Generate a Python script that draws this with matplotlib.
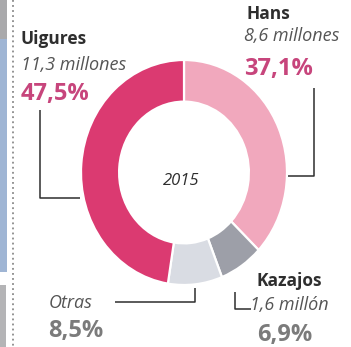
import matplotlib

matplotlib.use("Agg")
import matplotlib.pyplot as plt
from matplotlib.patches import Rectangle

# data
groups = ["Hans", "Kazajos", "Otras", "Uigures"]
shares = [37.1, 6.9, 8.5, 47.5]
people = ["8,6 millones", "1,6 millón", "", "11,3 millones"]
share_labels = ["37,1%", "6,9%", "8,5%", "47,5%"]
year = "2015"

colors = ["#f1a8bd", "#9d9fa8", "#d9dce3", "#db3a71"]
PINK_TXT = "#c7457c"
GRAY_TXT = "#7b7b7b"
DARK = "#2e2e2e"
ITAL = "#555555"
FONT = "Open Sans"

W, H = 351, 347
fig = plt.figure(figsize=(W / 100, H / 100), dpi=100)

# overlay axes in pixel coordinates
ax = fig.add_axes([0, 0, 1, 1])
ax.set_xlim(0, W)
ax.set_ylim(H, 0)
ax.axis("off")

# donut (slightly taller than wide, as in the source)
cx, cy, rx, ry = 184, 172.5, 103, 112.5
pax = fig.add_axes([(cx - rx) / W, (H - cy - ry) / H, 2 * rx / W, 2 * ry / H])
pax.pie(shares, colors=colors, startangle=90, counterclock=False,
        wedgeprops=dict(width=0.37, edgecolor="white", linewidth=1.6))
pax.set_aspect("auto")
pax.set_xlim(-1, 1)
pax.set_ylim(-1, 1)
pax.axis("off")

# left page decorations
ax.add_patch(Rectangle((0, 0), 7, 39, color="#a9a9ab", lw=0))
ax.add_patch(Rectangle((0, 39), 7, 233, color="#9fb5d4", lw=0))
ax.add_patch(Rectangle((0, 285), 6, 62, color="#b4b4b6", lw=0))
ax.plot([12.5, 12.5], [0, H], color="#8a8a8a", lw=1.3, ls=(0, (1, 1.8)))

# leader lines
lk = dict(color=DARK, lw=1.1, solid_capstyle="butt")
ax.plot([40, 40, 80], [110, 198, 198], **lk)          # Uigures
ax.plot([287, 314, 314], [176, 176, 88], **lk)        # Hans
ax.plot([195, 195, 115], [288, 302, 302], **lk)       # Otras
ax.plot([235, 235, 251], [292, 309, 309], **lk)       # Kazajos

def label(x, y, s, size, color, weight="normal", style="normal"):
    ax.text(x, y, s, fontsize=size, color=color, fontweight=weight,
            fontstyle=style, family=FONT, ha="left", va="baseline")

# Uigures
label(21, 44, groups[3], 12.5, DARK, weight="bold")
label(21, 70, people[3], 13, ITAL, style="italic")
label(21, 100, share_labels[3], 17, PINK_TXT, weight="bold")
# Hans
label(246, 19, groups[0], 12.5, DARK, weight="bold")
label(244, 41, people[0], 13, ITAL, style="italic")
label(244, 75, share_labels[0], 17, PINK_TXT, weight="bold")
# Otras
label(49, 308, groups[2], 13, ITAL, style="italic")
label(48, 337, share_labels[2], 17, GRAY_TXT, weight="bold")
# Kazajos
label(257, 286, groups[1], 12.5, DARK, weight="bold")
label(250, 310, people[1], 13, ITAL, style="italic")
label(257, 341, share_labels[1], 17, GRAY_TXT, weight="bold")

ax.text(181, 185, year, fontsize=12, color=DARK, fontstyle="italic",
        family=FONT, ha="center", va="baseline")

fig.savefig("out.png", dpi=100)
